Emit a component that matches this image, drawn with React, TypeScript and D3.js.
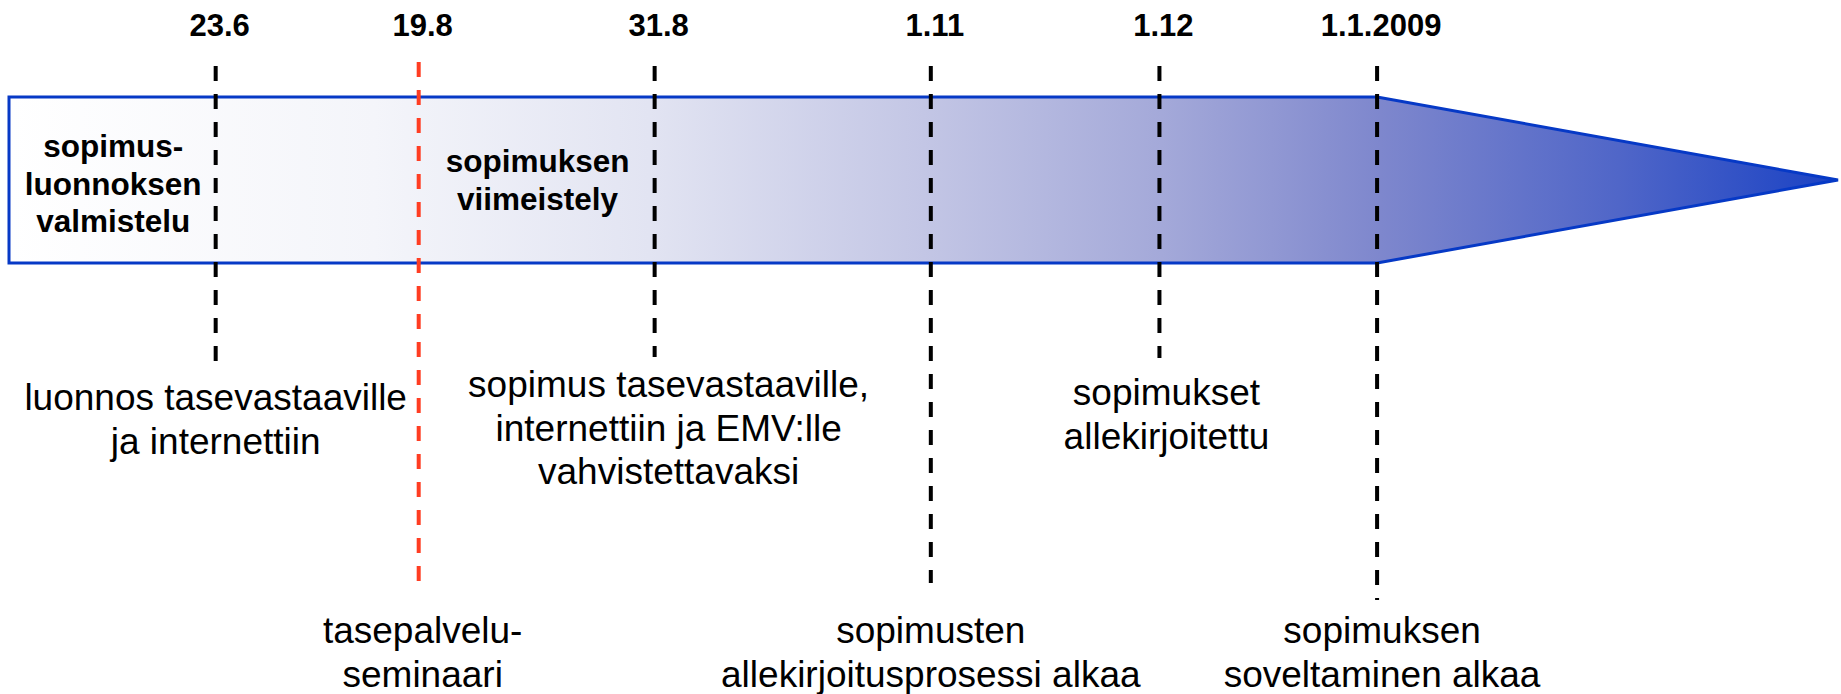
import * as d3 from "d3";
import React, {useEffect, useRef} from "react";

// milestones on the timeline arrow
const milestoneLabels = ["23.6", "19.8", "31.8", "1.11", "1.12", "1.1.2009"];
// position of each milestone along the arrow, % of its length
const milestonePos = [11.3, 22.4, 35.3, 50.4, 62.9, 74.8];
const milestoneHighlight = [false, true, false, false, false, false];

const eventTexts = [
    ["luonnos tasevastaaville", "ja internettiin"],
    ["tasepalvelu-", "seminaari"],
    ["sopimus tasevastaaville,", "internettiin ja EMV:lle", "vahvistettavaksi"],
    ["sopimusten", "allekirjoitusprosessi alkaa"],
    ["sopimukset", "allekirjoitettu"],
    ["sopimuksen", "soveltaminen alkaa"],
];

// phases written inside the arrow
const phaseTexts = [
    ["sopimus-", "luonnoksen", "valmistelu"],
    ["sopimuksen", "viimeistely"],
];
const phasePos = [5.7, 28.9];

const W = 1841, H = 694;
const FONT = "'Liberation Sans', Arial, Helvetica, sans-serif";

const Timeline = () => {
    const ref = useRef<SVGSVGElement | null>(null);

    useEffect(() => {
        const svg = d3.select(ref.current);
        svg.selectAll("*").remove();

        const x = d3.scaleLinear().domain([0, 100]).range([9, 1838]);
        const barTop = 97, barBottom = 263, barMid = (barTop + barBottom) / 2;
        const bodyEnd = x(milestonePos[milestonePos.length - 1]);

        // gradient fill for the arrow
        const defs = svg.append("defs");
        const grad = defs.append("linearGradient")
            .attr("id", "arrowFill")
            .attr("gradientUnits", "userSpaceOnUse")
            .attr("x1", x(0)).attr("x2", x(100))
            .attr("y1", 0).attr("y2", 0);
        const stops: [number, string][] = [
            [0, "#ffffff"], [0.2, "#f4f5fa"], [0.35, "#e2e4f2"], [0.5, "#c3c6e5"],
            [0.63, "#a4a9d9"], [0.75, "#7e87cd"], [0.88, "#5066c8"], [1, "#1a42c4"],
        ];
        stops.forEach(([o, c]) => grad.append("stop").attr("offset", o).attr("stop-color", c));

        const arrow = d3.line()([
            [x(0), barTop], [bodyEnd, barTop], [x(100), barMid],
            [bodyEnd, barBottom], [x(0), barBottom],
        ]) + "Z";
        svg.append("path")
            .attr("d", arrow)
            .attr("fill", "url(#arrowFill)")
            .attr("stroke", "#0639c6")
            .attr("stroke-width", 3)
            .attr("stroke-linejoin", "miter");

        // phase names inside the arrow
        const phaseBase = [157, 172];
        phaseTexts.forEach((lines, i) => {
            const t = svg.append("text")
                .attr("x", x(phasePos[i]))
                .attr("text-anchor", "middle")
                .attr("font-family", FONT)
                .attr("font-weight", "bold")
                .attr("font-size", 31.5)
                .attr("fill", "#000");
            lines.forEach((l, j) => t.append("tspan")
                .attr("x", x(phasePos[i]))
                .attr("y", phaseBase[i] + j * 37.5)
                .text(l));
        });

        // dashed milestone lines
        const lineEnd = [373, 582, 357, 583, 358, 600];
        svg.selectAll(".ms-line")
            .data(milestoneLabels)
            .join("line")
            .attr("class", "ms-line")
            .attr("x1", (d, i) => x(milestonePos[i]))
            .attr("x2", (d, i) => x(milestonePos[i]))
            .attr("y1", (d, i) => milestoneHighlight[i] ? 62 : 66)
            .attr("y2", (d, i) => lineEnd[i])
            .attr("stroke", (d, i) => milestoneHighlight[i] ? "#ff3d22" : "#000")
            .attr("stroke-width", 4)
            .attr("stroke-dasharray", "15 13");

        // date labels
        svg.selectAll(".ms-label")
            .data(milestoneLabels)
            .join("text")
            .attr("class", "ms-label")
            .attr("x", (d, i) => x(milestonePos[i]) + 4)
            .attr("y", 36)
            .attr("text-anchor", "middle")
            .attr("font-family", FONT)
            .attr("font-weight", "bold")
            .attr("font-size", 31)
            .text(d => d);

        // event descriptions
        const textDx = [0, 4, 14, 0, 7, 5];
        const textBase = [410, 643, 397, 643, 405, 643];
        eventTexts.forEach((lines, i) => {
            const cx = x(milestonePos[i]) + textDx[i];
            const t = svg.append("text")
                .attr("text-anchor", "middle")
                .attr("font-family", FONT)
                .attr("font-size", 37)
                .attr("fill", "#000");
            lines.forEach((l, j) => t.append("tspan")
                .attr("x", cx)
                .attr("y", textBase[i] + j * 43.5)
                .text(l));
        });
    }, []);

    return (
        <svg ref={ref} width={W} height={H}
             style={{position: "absolute", left: 0, top: 0, background: "#fff"}}/>
    );
};

export default function App() {
    return <Timeline/>;
}
